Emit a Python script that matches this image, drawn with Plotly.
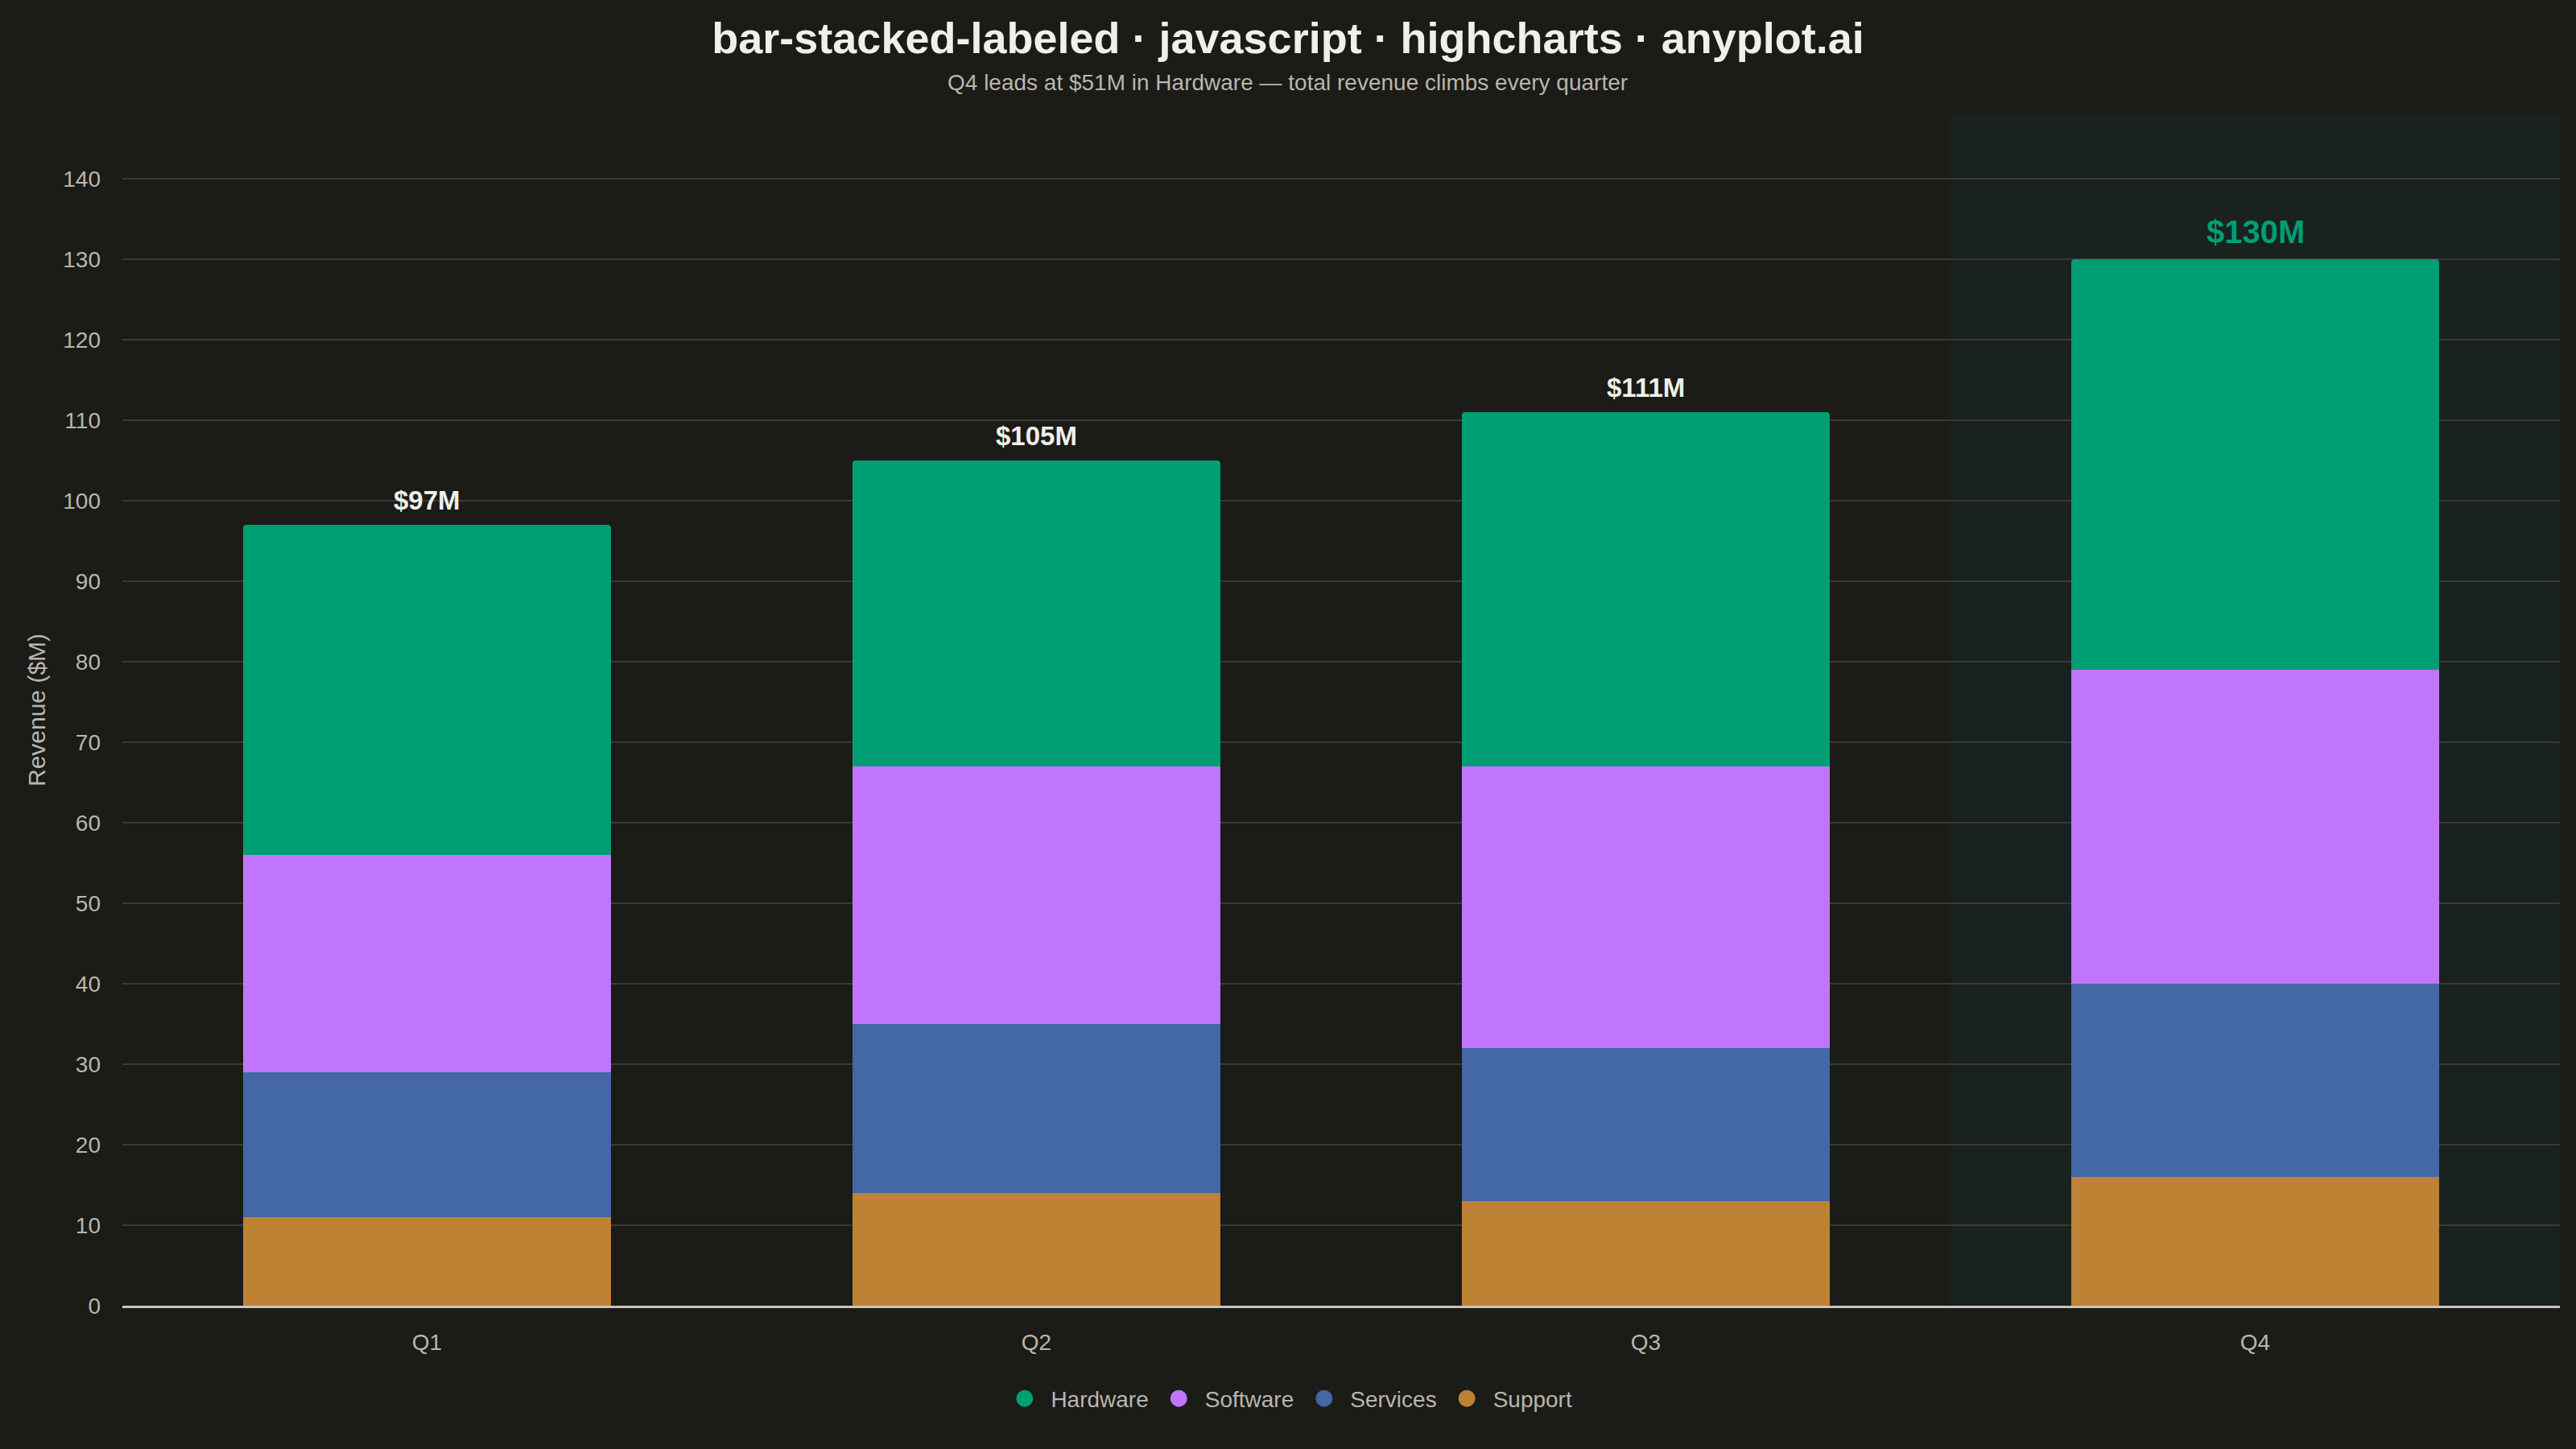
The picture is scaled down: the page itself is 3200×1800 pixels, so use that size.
import plotly.graph_objects as go

# --- data ---
quarters = ["Q1", "Q2", "Q3", "Q4"]
hardware = [41, 38, 44, 51]
software = [27, 32, 35, 39]
services = [18, 21, 19, 24]
support = [11, 14, 13, 16]

series_names = ["Support", "Services", "Software", "Hardware"]
series_values = [support, services, software, hardware]
series_colors = ["#BD8234", "#4467A5", "#C175FC", "#009E73"]
legend_order = ["Hardware", "Software", "Services", "Support"]

highlight_quarter = "Q4"

BG = "#1B1B17"
TEXT = "#F0EFE8"
MUTED = "#B8B6AE"
GRID = "#3A3A35"
FONT = "Liberation Sans, Arial, sans-serif"

totals = [sum(v) for v in zip(*series_values)]

fig = go.Figure()

# stacked bars (bottom -> top)
for name, vals, col in zip(series_names, series_values, series_colors):
    fig.add_trace(go.Bar(
        x=quarters, y=vals, name=name,
        marker=dict(color=col, line=dict(width=0)),
        showlegend=False,
        hovertemplate=name + ": $%{y}M<extra></extra>",
    ))

# circle legend entries
color_of = dict(zip(series_names, series_colors))
for name in legend_order:
    fig.add_trace(go.Scatter(
        x=[None], y=[None], mode="markers", name=name,
        marker=dict(symbol="circle", size=16, color=color_of[name],
                    line=dict(color=color_of[name], width=5)),
    ))

# totals above each stack
for q, t in zip(quarters, totals):
    hl = q == highlight_quarter
    fig.add_annotation(
        x=q, y=t, text=f"<b>${t}M</b>", showarrow=False,
        yanchor="bottom", yshift=10,
        font=dict(size=40 if hl else 33, color="#009E73" if hl else TEXT, family=FONT),
    )

# highlight band behind Q4
hi = quarters.index(highlight_quarter)
fig.add_shape(
    type="rect", xref="x", yref="paper",
    x0=hi - 0.5, x1=hi + 0.5, y0=0, y1=1,
    fillcolor="#19221F", line=dict(width=0), layer="below",
)

# subtitle (centred on the page, not the plot area)
fig.add_annotation(
    text="Q4 leads at $51M in Hardware — total revenue climbs every quarter",
    xref="paper", yref="paper", x=0.478, y=1.027, xanchor="center", yanchor="middle",
    showarrow=False, font=dict(size=28, color=MUTED, family=FONT),
)

fig.update_layout(
    width=3200, height=1800,
    paper_bgcolor=BG, plot_bgcolor=BG,
    font=dict(family=FONT, color=MUTED, size=28),
    barmode="stack", bargap=0.395, barcornerradius=5,
    margin=dict(l=152, r=20, t=142, b=178, autoexpand=False),
    title=dict(
        text="<b>bar-stacked-labeled · javascript · highcharts · anyplot.ai</b>",
        x=0.5, xanchor="center", y=0.974, yanchor="middle",
        font=dict(size=54, color=TEXT, family=FONT),
    ),
    legend=dict(
        orientation="h", x=0.478, xanchor="center",
        y=-0.078, yanchor="middle",
        font=dict(size=28, color=MUTED), bgcolor="rgba(0,0,0,0)",
        traceorder="normal", itemwidth=55,
    ),
    xaxis=dict(
        type="category", range=[-0.5, 3.5],
        showgrid=False, showline=True, linecolor="#C8C6BC", linewidth=3,
        ticks="", tickfont=dict(size=28, color=MUTED), ticklabelstandoff=18,
    ),
    yaxis=dict(
        range=[0, 148], dtick=10, tick0=0,
        showgrid=True, gridcolor=GRID, gridwidth=2, zeroline=False,
        tickfont=dict(size=28, color=MUTED), ticklabelstandoff=26,
        title=dict(text="Revenue ($M)", font=dict(size=30, color=MUTED), standoff=12),
    ),
)

fig.write_html(
    "out.html",
    config={"displayModeBar": False},
    post_script="document.body.style.margin='0';document.body.style.background='#1B1B17';",
)
